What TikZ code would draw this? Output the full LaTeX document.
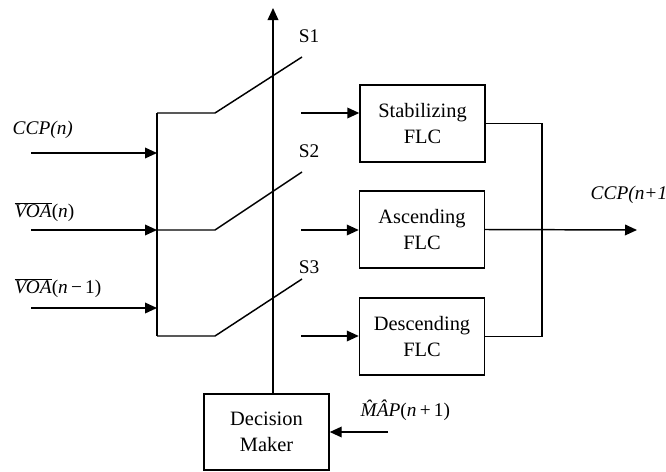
\documentclass[tikz,border=0pt]{standalone}
\usepackage{fontspec}
\setmainfont{Liberation Serif}
\usetikzlibrary{arrows.meta}
\begin{document}
\begin{tikzpicture}[x=0.75pt,y=-0.75pt,
  line width=1.1pt,
  every node/.style={font=\fontsize{14.5}{19.5}\selectfont},
  box/.style={draw,line width=1.1pt,align=center,inner sep=0pt,minimum width=93.75pt,minimum height=57.75pt,font=\fontsize{15.3}{19.5}\selectfont},
  arr/.style={-{Triangle[length=9pt,width=8pt]}},
  lbl/.style={inner sep=0pt}]
\useasboundingbox (0,0) rectangle (666,471);
% boxes
\node[box] (stab) at (422.5,123.5) {Stabilizing\\FLC};
\node[box] (asc) at (422,229.5) {Ascending\\FLC};
\node[box] (desc) at (422,336.5) {Descending\\FLC};
\node[box,minimum height=57pt] (dm) at (266.5,432) {Decision\\Maker};
% left inputs
\coordinate (i1) at (31,153);
\coordinate (i2) at (31,230);
\coordinate (i3) at (31,308);
\coordinate (b1) at (157,153);
\coordinate (b2) at (157,230);
\coordinate (b3) at (157,308);
\coordinate (btop) at (157,113);
\coordinate (bbot) at (157,336);
\draw[arr] (i1) -- (b1);
\draw[arr] (i2) -- (b2);
\draw[arr] (i3) -- (b3);
\draw (btop) -- (bbot);
% switches
\coordinate (k1) at (215,113);
\coordinate (k2) at (215,230);
\coordinate (k3) at (215,336);
\coordinate (s1) at (302,57);
\coordinate (s2) at (302,172);
\coordinate (s3) at (302,279);
\draw (btop) -- (k1) -- (s1);
\draw (b2) -- (k2) -- (s2);
\draw (bbot) -- (k3) -- (s3);
\node[lbl] (l1) at (309,36) {S1};
\node[lbl] (l2) at (309,151) {S2};
\node[lbl] (l3) at (309,267) {S3};
% control line
\coordinate (ctop) at (273,8);
\draw[arr] (dm.north -| ctop) -- (ctop);
% switch outputs to boxes
\coordinate (o1) at (301,113);
\coordinate (o2) at (301,230);
\coordinate (o3) at (301,336);
\draw[arr] (o1) -- (o1 -| stab.west);
\draw[arr] (o2) -- (o2 -| asc.west);
\draw[arr] (o3) -- (o3 -| desc.west);
% output combination
\coordinate (rb) at (542,230);
\coordinate (out) at (637,230);
\draw (stab.east) -| (rb);
\draw (desc.east) -| (rb);
\draw[arr] (asc.east) -- (out);
% map input
\coordinate (mapin) at (388,432);
\draw[arr] (mapin) -- (dm.east);
% labels
\node[lbl,anchor=west] (tccp) at (12,130) {\textit{CCP(n)}};
\node[lbl,anchor=west] (tvoa1) at (14,212) {$\overline{\mbox{\textit{VOA}}}$(\textit{n})};
\node[lbl,anchor=west] (tvoa2) at (14,288) {$\overline{\mbox{\textit{VOA}}}$(\textit{n}\,−\,1)};
\node[lbl,anchor=west] (tccp2) at (590,195) {\textit{CCP(n+1)}};
\node[lbl,anchor=west] (tmap) at (360,410) {\textit{\^MÂP}(\textit{n}\,+\,1)};
\end{tikzpicture}
\end{document}
